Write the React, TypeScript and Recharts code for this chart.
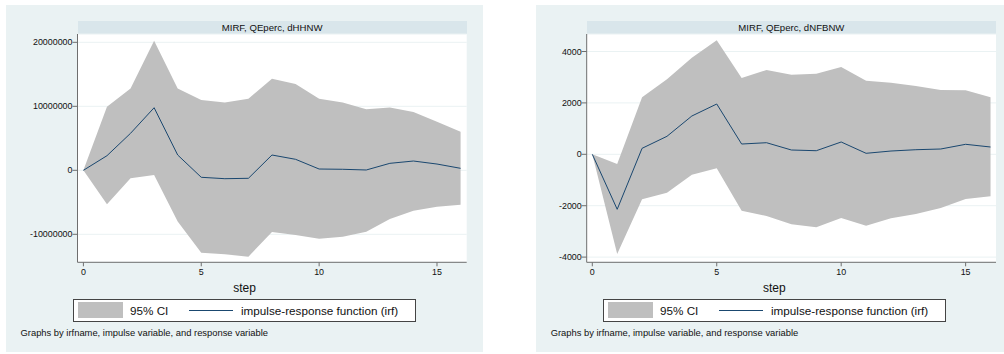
import React from 'react';
import { ComposedChart, Area, Line, XAxis, YAxis, CartesianGrid } from 'recharts';

const steps = [0, 1, 2, 3, 4, 5, 6, 7, 8, 9, 10, 11, 12, 13, 14, 15, 16];

const hhIrf = [0, 2280000, 5780000, 9780000, 2390000, -1090000, -1310000, -1250000, 2390000, 1720000, 200000, 160000, 50000, 1090000, 1450000, 980000, 310000];
const hhLo = [0, -5300000, -1250000, -730000, -8000000, -12900000, -13100000, -13500000, -9640000, -10100000, -10700000, -10400000, -9600000, -7600000, -6300000, -5700000, -5400000];
const hhHi = [0, 9940000, 12800000, 20250000, 12800000, 10980000, 10600000, 11200000, 14300000, 13500000, 11200000, 10600000, 9530000, 9800000, 9100000, 7600000, 6030000];

const nfIrf = [0, -2140, 233, 700, 1490, 1957, 400, 451, 167, 140, 479, 39, 128, 179, 206, 389, 284];
const nfLo = [0, -3879, -1751, -1494, -794, -545, -2194, -2401, -2724, -2840, -2479, -2778, -2490, -2323, -2089, -1739, -1634];
const nfHi = [0, -377, 2218, 2918, 3759, 4436, 2969, 3280, 3097, 3136, 3397, 2864, 2786, 2658, 2502, 2490, 2218];

const xTicks = [0, 5, 10, 15];
const hhYTicks = [-10000000, 0, 10000000, 20000000];
const nfYTicks = [-4000, -2000, 0, 2000, 4000];

const hhTitle = 'MIRF, QEperc, dHHNW';
const nfTitle = 'MIRF, QEperc, dNFBNW';
const xLabel = 'step';
const ciLabel = '95% CI';
const irfLabel = 'impulse-response function (irf)';
const noteLabel = 'Graphs by irfname, impulse variable, and response variable';

const FONT = '"Liberation Sans", Arial, Helvetica, sans-serif';
const BG = '#eaf2f3';
const BAND = '#d9e6eb';
const CI = '#bfbfbf';
const NAVY = '#1a476f';
const AXIS = '#6e6e6e';

function build(irf: number[], lo: number[], hi: number[]) {
  return steps.map((s, i) => ({ step: s, irf: irf[i], ci: [lo[i], hi[i]] }));
}

type PanelProps = {
  bgLeft: number;
  bgRight: number;
  plotLeft: number;
  plotRight: number;
  yAxisWidth: number;
  xDomain: [number, number];
  yDomain: [number, number];
  yTicks: number[];
  title: string;
  data: any[];
  legendLeft: number;
  stepCenter: number;
  noteLeft: number;
};

const PLOT_TOP = 34;
const PLOT_BOTTOM = 262.3;
const H = 354;

function Panel(p: PanelProps) {
  const chartLeft = p.bgLeft;
  const chartWidth = p.bgRight - p.bgLeft;
  const xAxisH = 20;
  const margin = {
    top: PLOT_TOP,
    bottom: H - PLOT_BOTTOM - xAxisH,
    left: p.plotLeft - chartLeft - p.yAxisWidth,
    right: chartLeft + chartWidth - p.plotRight,
  };
  const txt = { position: 'absolute' as const, fontFamily: FONT, color: '#111', whiteSpace: 'nowrap' as const };
  return (
    <>
      <div style={{ position: 'absolute', left: p.bgLeft, top: 5, width: p.bgRight - p.bgLeft, height: 347, background: BG }} />
      <div
        style={{
          ...txt,
          left: p.plotLeft,
          top: 21,
          width: p.plotRight - p.plotLeft,
          height: 13,
          background: BAND,
          fontSize: 9.6,
          lineHeight: '13px',
          textAlign: 'center',
        }}
      >
        {p.title}
      </div>
      <div style={{ position: 'absolute', left: chartLeft, top: 0 }}>
        <ComposedChart width={chartWidth} height={H} data={p.data} margin={margin}>
          <CartesianGrid vertical={false} stroke={BG} fill="#ffffff" strokeWidth={1} />
          <XAxis
            dataKey="step"
            type="number"
            domain={p.xDomain}
            ticks={xTicks}
            allowDataOverflow
            height={xAxisH}
            tickSize={4}
            tickMargin={2}
            stroke={AXIS}
            tick={{ fill: '#111', fontSize: 8.9, fontFamily: FONT }}
            tickLine={{ stroke: AXIS }}
          />
          <YAxis
            type="number"
            domain={p.yDomain}
            ticks={p.yTicks}
            allowDataOverflow
            width={p.yAxisWidth}
            tickSize={5}
            tickMargin={0}
            stroke={AXIS}
            interval={0}
            tick={{ fill: '#111', fontSize: 8.9, fontFamily: FONT }}
            tickLine={{ stroke: AXIS }}
          />
          <Area
            dataKey="ci"
            type="linear"
            fill={CI}
            fillOpacity={1}
            stroke="none"
            isAnimationActive={false}
            dot={false}
            activeDot={false}
          />
          <Line
            dataKey="irf"
            type="linear"
            stroke={NAVY}
            strokeWidth={1}
            dot={false}
            activeDot={false}
            isAnimationActive={false}
          />
        </ComposedChart>
      </div>
      <div style={{ ...txt, left: p.stepCenter - 40, width: 80, top: 280, fontSize: 12, lineHeight: '16px', textAlign: 'center' }}>
        {xLabel}
      </div>
      <div
        style={{
          position: 'absolute',
          left: p.legendLeft,
          top: 299,
          width: 341,
          height: 21,
          border: '1px solid #444',
          background: '#ffffff',
        }}
      >
        <div style={{ position: 'absolute', left: 4, top: 2, width: 45, height: 16, background: CI }} />
        <div style={{ ...txt, left: 56, top: 2, fontSize: 11.7, lineHeight: '17px' }}>{ciLabel}</div>
        <div style={{ position: 'absolute', left: 115, top: 10, width: 44, height: 1, background: NAVY }} />
        <div style={{ ...txt, left: 167, top: 2, fontSize: 11.7, lineHeight: '17px' }}>{irfLabel}</div>
      </div>
      <div style={{ ...txt, left: p.noteLeft, top: 327, fontSize: 9.4, lineHeight: '12px' }}>{noteLabel}</div>
    </>
  );
}

export default function App() {
  return (
    <div style={{ position: 'absolute', left: 0, top: 0, width: 1004, height: 354, background: '#ffffff', overflow: 'hidden' }}>
      <Panel
        bgLeft={6}
        bgRight={483}
        plotLeft={77.5}
        plotRight={466.7}
        yAxisWidth={70}
        xDomain={[-0.25, 16.26]}
        yDomain={[-14375000, 21300000]}
        yTicks={hhYTicks}
        title={hhTitle}
        data={build(hhIrf, hhLo, hhHi)}
        legendLeft={73}
        stepCenter={244.5}
        noteLeft={20.5}
      />
      <Panel
        bgLeft={536}
        bgRight={1004}
        plotLeft={586.7}
        plotRight={996}
        yAxisWidth={45}
        xDomain={[-0.225, 16.22]}
        yDomain={[-4202, 4681]}
        yTicks={nfYTicks}
        title={nfTitle}
        data={build(nfIrf, nfLo, nfHi)}
        legendLeft={603}
        stepCenter={774.3}
        noteLeft={550.7}
      />
    </div>
  );
}
